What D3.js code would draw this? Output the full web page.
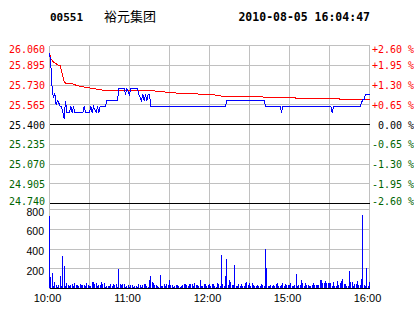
<!DOCTYPE html>
<html>
<head>
<meta charset="utf-8">
<script src="https://cdn.jsdelivr.net/npm/d3@7/dist/d3.min.js"></script>
<style>
  body { margin: 0; background: #fff; }
  text { white-space: pre; }
</style>
</head>
<body>
<div id="chart"></div>
<script>
var width = 414, height = 314;

// header
var stockCode = "00551",
    stockName = "裕元集团",
    stamp = "2010-08-05 16:04:47";

var preClose = 25.40;

// price axis labels (left) and percent labels (right), top to bottom
var priceTicks = [26.060, 25.895, 25.730, 25.565, 25.400, 25.235, 25.070, 24.905, 24.740];
var priceLabels = ["26.060", "25.895", "25.730", "25.565", "25.400", "25.235", "25.070", "24.905", "24.740"];
var pctLabels = ["+2.60 %", "+1.95 %", "+1.30 %", "+0.65 %", " 0.00 %", "-0.65 %", "-1.30 %", "-1.95 %", "-2.60 %"];

var volTicks = [200, 400, 600, 800];
var timeTicks = [0, 60, 120, 180, 240];
var timeLabels = ["10:00", "11:00", "12:00", "15:00", "16:00"];

// last price (minute index, price)
var priceT = [0,1,2,3,4,5,6,7,8,9,10,11,12,13,15,16,17,18,19,25,26,27,30,31,32,33,35,36,37,38,42,43,51,52,56,57,58,60,61,66,67,69,70,71,72,73,74,75,76,132,133,161,162,173,174,175,211,212,213,233,235,236,237,240];
var priceV = [26.00,25.90,25.70,25.62,25.66,25.56,25.60,25.58,25.55,25.55,25.50,25.45,25.60,25.50,25.50,25.55,25.50,25.55,25.50,25.50,25.55,25.50,25.50,25.55,25.50,25.55,25.50,25.55,25.50,25.55,25.55,25.60,25.60,25.70,25.70,25.65,25.70,25.65,25.70,25.70,25.65,25.60,25.65,25.60,25.65,25.60,25.65,25.65,25.55,25.55,25.60,25.60,25.55,25.55,25.50,25.55,25.55,25.50,25.55,25.55,25.61,25.61,25.65,25.65];

// average price
var avgT = [0,1,3,6,8,9,10,11,12,17,20,24,33,42,75,83,91,108,123,129,160,161,184,185,217,218,240];
var avgV = [26.00,25.95,25.92,25.90,25.89,25.85,25.80,25.76,25.745,25.74,25.728,25.717,25.70,25.684,25.684,25.676,25.665,25.657,25.648,25.637,25.631,25.625,25.625,25.617,25.617,25.609,25.609];

// volume per minute, 10:00 .. 16:00
var volume = [
  730,115,150,20,61,27,15,30,122,25,
  327,223,20,47,35,20,30,37,20,50,
  30,30,20,40,30,27,30,20,50,30,
  23,20,61,61,37,50,20,30,34,61,
  37,47,15,20,20,20,40,25,40,30,
  40,15,192,40,30,37,40,15,20,30,
  15,27,30,15,20,20,15,40,27,15,
  27,37,40,20,15,81,122,57,47,35,
  30,20,15,132,20,20,40,20,40,30,
  81,30,30,15,20,30,30,20,15,25,
  30,40,40,30,20,40,40,40,20,50,
  30,30,20,81,20,20,40,40,20,30,
  40,
  20,37,37,20,15,47,40,20,334,40,
  20,122,294,30,81,57,27,27,233,20,
  20,37,20,40,20,20,47,57,30,50,
  20,47,30,20,20,30,20,20,37,30,
  20,398,203,20,20,27,20,27,20,40,
  47,20,20,27,47,20,37,30,27,27,
  47,20,20,27,142,20,27,27,81,47,
  20,47,27,27,20,20,27,47,27,27,
  27,27,81,81,47,47,71,47,47,47,
  47,20,57,20,20,71,27,47,71,91,
  37,37,20,20,172,57,57,20,37,37,
  71,27,27,91,740,27,20,203,20,57
];

var red = "#ff0000", blue = "#0000ff", green = "#006400", grid = "#c0c0c0";
var mono = "'DejaVu Sans Mono', monospace", sans = "'Liberation Sans', Arial, sans-serif";

var svg = d3.select("#chart").append("svg")
    .attr("width", width)
    .attr("height", height)
    .style("background", "#fff");

var x = d3.scaleLinear().domain([0, 240]).range([49.5, 369.5]);
var y = d3.scaleLinear().domain([24.74, 26.06]).range([203.5, 45.5]);
var yv = d3.scaleLinear().domain([0, 800]).range([288.5, 209.5]);

// header texts
svg.append("text").attr("x", 50).attr("y", 21)
    .style("font-family", mono).style("font-weight", "bold").style("font-size", "11px")
    .text(stockCode);
svg.append("text").attr("x", 104).attr("y", 21)
    .style("font-family", "'Noto Sans CJK SC', sans-serif").style("font-size", "13px")
    .text(stockName);
svg.append("text").attr("x", 370).attr("y", 21).attr("text-anchor", "end")
    .style("font-family", mono).style("font-weight", "bold").style("font-size", "11.5px")
    .text(stamp);

// gridlines
var g = svg.append("g").attr("shape-rendering", "crispEdges");

g.selectAll(".vgrid").data(d3.range(0, 241, 30))
  .enter().append("line")
    .attr("x1", function(d) { return x(d); }).attr("x2", function(d) { return x(d); })
    .attr("y1", y(26.06)).attr("y2", yv(0))
    .attr("stroke", grid);

g.selectAll(".hgrid").data(priceTicks)
  .enter().append("line")
    .attr("x1", x(0)).attr("x2", x(240))
    .attr("y1", function(d) { return y(d); }).attr("y2", function(d) { return y(d); })
    .attr("stroke", function(d, i) { return (i == 4 || i == 8) ? "#000" : grid; });

g.selectAll(".vgridv").data(volTicks)
  .enter().append("line")
    .attr("x1", x(0)).attr("x2", x(240))
    .attr("y1", function(d) { return yv(d); }).attr("y2", function(d) { return yv(d); })
    .attr("stroke", grid);

// volume bars
svg.append("g").attr("shape-rendering", "crispEdges")
  .selectAll("rect").data(volume)
  .enter().append("rect")
    .attr("x", function(d, i) { return Math.floor(x(i)); })
    .attr("y", function(d) { return Math.round(yv(d) - 0.5); })
    .attr("width", 1)
    .attr("height", function(d) { return Math.round(yv(0) - 0.5) - Math.round(yv(d) - 0.5); })
    .attr("fill", blue);

g.append("line")
    .attr("x1", x(0)).attr("x2", x(240)).attr("y1", yv(0)).attr("y2", yv(0))
    .attr("stroke", "#000");

// price and average lines
var line = d3.line()
    .x(function(d) { return x(d[0]); })
    .y(function(d) { return y(d[1]); });

svg.append("path")
    .datum(avgT.map(function(t, i) { return [t, avgV[i]]; }))
    .attr("d", line).attr("fill", "none").attr("stroke", red)
    .attr("shape-rendering", "crispEdges");

svg.append("path")
    .datum(priceT.map(function(t, i) { return [t, priceV[i]]; }))
    .attr("d", line).attr("fill", "none").attr("stroke", blue)
    .attr("shape-rendering", "crispEdges");

// left price labels
function labelColor(v) {
  return v > preClose + 1e-6 ? red : (v < preClose - 1e-6 ? green : "#000");
}

svg.selectAll(".plab").data(priceTicks)
  .enter().append("text")
    .attr("x", 45)
    .attr("y", function(d, i) { return y(d) + 4 + (i == 0 ? 3 : 0) + (i == 8 ? -3 : 0); })
    .attr("text-anchor", "end")
    .style("font-family", mono).style("font-size", "10px")
    .style("fill", labelColor)
    .text(function(d, i) { return priceLabels[i]; });

svg.selectAll(".rlab").data(priceTicks)
  .enter().append("text")
    .attr("x", 372)
    .attr("y", function(d, i) { return y(d) + 4 + (i == 0 ? 3 : 0) + (i == 8 ? -3 : 0); })
    .style("font-family", mono).style("font-size", "10px")
    .style("fill", labelColor)
    .text(function(d, i) { return pctLabels[i]; });

// volume labels
svg.selectAll(".vlab").data(volTicks)
  .enter().append("text")
    .attr("x", 44)
    .attr("y", function(d) { return yv(d) + 6; })
    .attr("text-anchor", "end")
    .style("font-family", sans).style("font-size", "10.5px")
    .text(function(d) { return d; });

// time labels
svg.selectAll(".tlab").data(timeTicks)
  .enter().append("text")
    .attr("x", function(d) { return x(d) - 2; })
    .attr("y", 302)
    .attr("text-anchor", "middle")
    .style("font-family", sans).style("font-size", "11px")
    .text(function(d, i) { return timeLabels[i]; });
</script>
</body>
</html>
